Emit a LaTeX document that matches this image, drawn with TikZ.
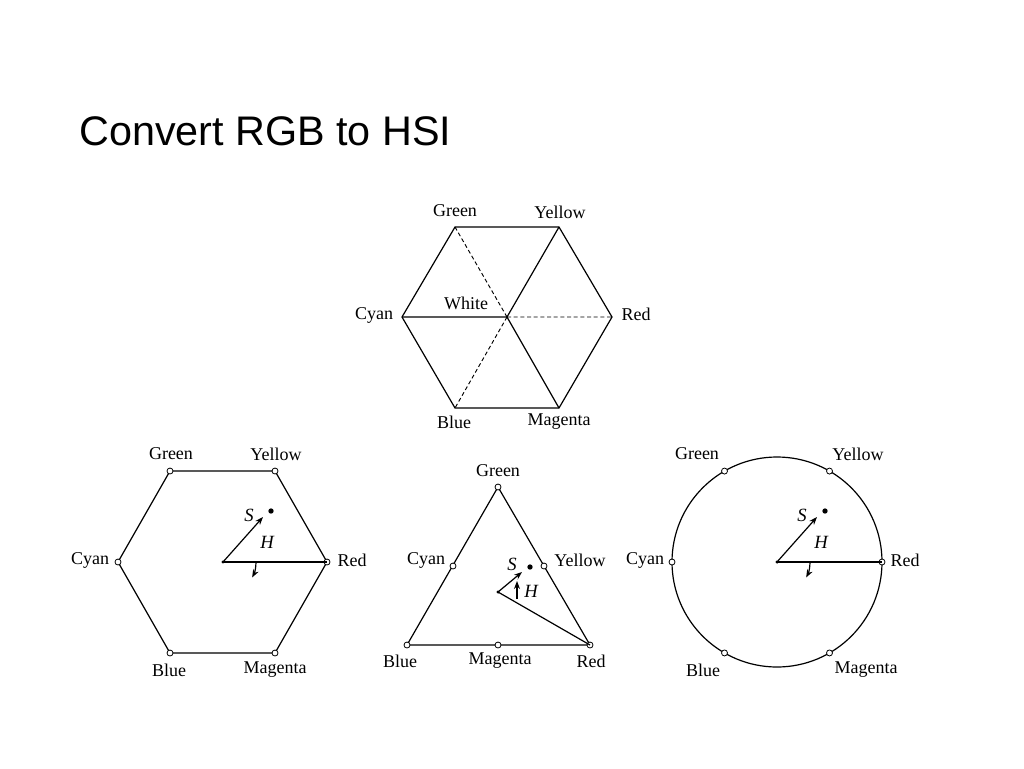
\documentclass[tikz,border=0pt]{standalone}
\usepackage{fontspec}
\setmainfont{Liberation Serif}
\newfontfamily\titlefont{Liberation Sans}
\usetikzlibrary{arrows.meta,calc}
\begin{document}
\begin{tikzpicture}[x=0.75pt,y=-0.75pt,
  lbl/.style={font=\fontsize{13.5}{14}\selectfont, inner sep=0pt},
  ital/.style={font=\fontsize{14}{14}\selectfont\itshape, inner sep=0pt},
  ln/.style={line width=0.9pt},
  dsh/.style={line width=0.7pt, dash pattern=on 3pt off 2pt},
  pt/.style={circle, draw, fill=white, line width=0.6pt, inner sep=0pt, minimum size=4.5pt},
  dot/.style={circle, fill=black, inner sep=0pt, minimum size=4pt},
  arr/.style={line width=0.9pt, -{Stealth[length=6pt,width=4.5pt]}}]
\useasboundingbox (0,0) rectangle (1024,768);
\node[anchor=west, font=\fontsize{31}{34}\selectfont\titlefont, inner sep=0pt] (title) at (79,131) {Convert RGB to HSI};
% top hexagon
\coordinate (tC) at (507,317);
\coordinate (tR) at (612,317); \coordinate (tY) at (559,227); \coordinate (tG) at (455,227);
\coordinate (tCy) at (402,317); \coordinate (tB) at (455,408); \coordinate (tM) at (559,408);
\draw[ln] (tR)--(tY)--(tG)--(tCy)--(tB)--(tM)--cycle;
\draw[ln] (tCy)--(tC) (tC)--(tY) (tC)--(tM);
\draw[dsh] (tC)--(tG) (tC)--(tR) (tC)--(tB);
\node[lbl] (tlG) at (455,211) {Green};
\node[lbl] (tlY) at (560,212) {Yellow};
\node[lbl] (tlC) at (374,315) {Cyan};
\node[lbl] (tlR) at (636,314) {Red};
\node[lbl] (tlW) at (466,303) {White};
\node[lbl] (tlB) at (454,422) {Blue};
\node[lbl] (tlM) at (559,422) {Magenta};
% left hexagon
\coordinate (hC) at (223,562);
\draw[ln] (327,562)--(275,471)--(170,471)--(118,562)--(170,653)--(275,653)--cycle;
\foreach \p/\q in {327/562,275/471,170/471,118/562,170/653,275/653} \node[pt] at (\p,\q) {};
\draw[ln] (hC)--(327,562);
\draw[arr] (hC)--(263,517);
\node[dot] (hd) at (271,511) {};
\draw[arr] (256,562) arc[start angle=0,end angle=28,radius=33];
\fill (hC) circle (1.3pt);
\node[ital] (hS) at (249,515) {S};
\node[ital] (hH) at (267,542) {H};
\node[lbl] at (171,454) {Green};
\node[lbl] at (276,454) {Yellow};
\node[lbl] at (90,560) {Cyan};
\node[lbl] at (352,560) {Red};
\node[lbl] at (169,670) {Blue};
\node[lbl] at (275,670) {Magenta};
% triangle
\coordinate (rC) at (498,592);
\draw[ln] (498,487)--(590,645)--(407,645)--cycle;
\foreach \p/\q in {498/487,590/645,407/645,453/566,544/566,498/645} \node[pt] at (\p,\q) {};
\draw[ln] (rC)--(590,645);
\draw[arr] (rC)--(522,572);
\node[dot] at (530,567) {};
\draw[arr] (517,599) -- (517,581);
\fill (rC) circle (1.3pt);
\node[ital] at (512,564) {S};
\node[ital] at (531,591) {H};
\node[lbl] at (498,471) {Green};
\node[lbl] at (426,560) {Cyan};
\node[lbl] at (580,560) {Yellow};
\node[lbl] at (400,661) {Blue};
\node[lbl] at (500,661) {Magenta};
\node[lbl] at (591,661) {Red};
% circle
\coordinate (cC) at (777,562);
\draw[ln] (cC) circle (105);
\foreach \a in {0,60,120,180,240,300} \node[pt] at ($(cC)+(\a:105)$) {};
\draw[ln] (cC)--(882,562);
\draw[arr] (cC)--(817,517);
\node[dot] at (825,511) {};
\draw[arr] (810,562) arc[start angle=0,end angle=28,radius=33];
\fill (cC) circle (1.3pt);
\node[ital] at (802,515) {S};
\node[ital] at (821,542) {H};
\node[lbl] at (697,454) {Green};
\node[lbl] at (858,454) {Yellow};
\node[lbl] at (645,560) {Cyan};
\node[lbl] at (905,560) {Red};
\node[lbl] at (703,670) {Blue};
\node[lbl] at (866,670) {Magenta};
\end{tikzpicture}
\end{document}
